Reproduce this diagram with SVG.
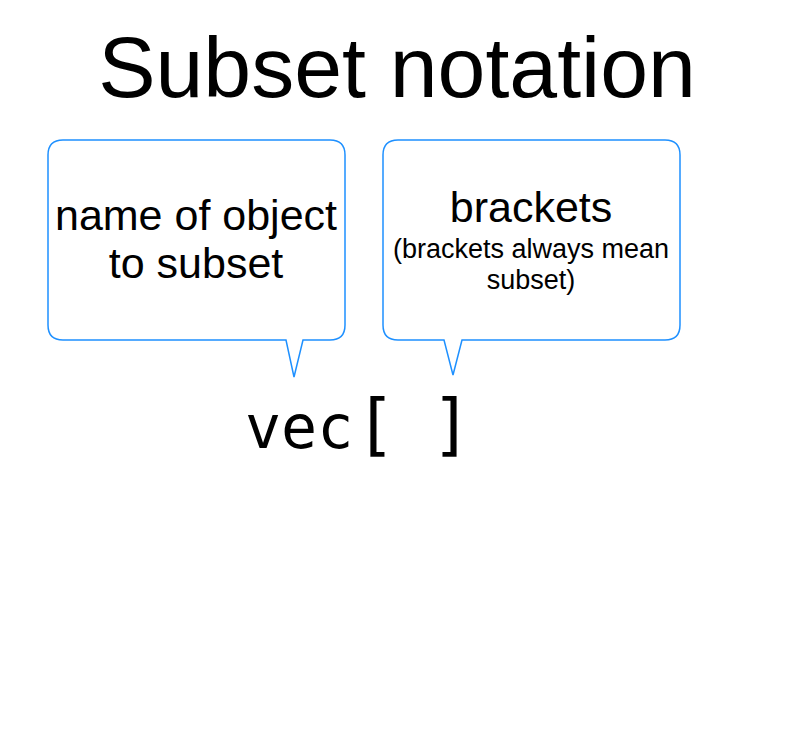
<svg xmlns="http://www.w3.org/2000/svg" width="789" height="745" viewBox="0 0 789 745">
<style>
.bubble{fill:#fff;stroke:#1E90FF;stroke-width:1.5;stroke-linejoin:miter}
.t{font-family:"Liberation Sans",Arial,sans-serif;fill:#000;text-anchor:middle}
.code{font-family:"DejaVu Sans Mono",monospace;fill:#000}
</style>
<rect width="789" height="745" fill="#fff"/>
<g id="title"><text class="t" x="397" y="97" font-size="86">Subset notation</text></g>
<g id="bubble-name">
<path class="bubble" d="M63,140 H330 Q345,140 345,155 V325 Q345,340 330,340 H303 L294,377 L286,340 H63 Q48,340 48,325 V155 Q48,140 63,140 Z"/>
<text class="t" x="196" y="230" font-size="43">name of object</text>
<text class="t" x="196" y="278" font-size="43">to subset</text>
</g>
<g id="bubble-brackets">
<path class="bubble" d="M398,140 H665 Q680,140 680,155 V325 Q680,340 665,340 H462 L453,375 L444,340 H398 Q383,340 383,325 V155 Q383,140 398,140 Z"/>
<text class="t" x="531" y="222" font-size="43">brackets</text>
<text class="t" x="531" y="258" font-size="27">(brackets always mean</text>
<text class="t" x="531" y="289" font-size="27">subset)</text>
</g>
<g id="code"><text class="code" x="245" y="448" font-size="60">vec<tspan x="355" font-size="68">[</tspan><tspan x="393" font-size="68"> </tspan><tspan x="431" font-size="68">]</tspan></text></g>
<g id="connectors"></g>
</svg>
